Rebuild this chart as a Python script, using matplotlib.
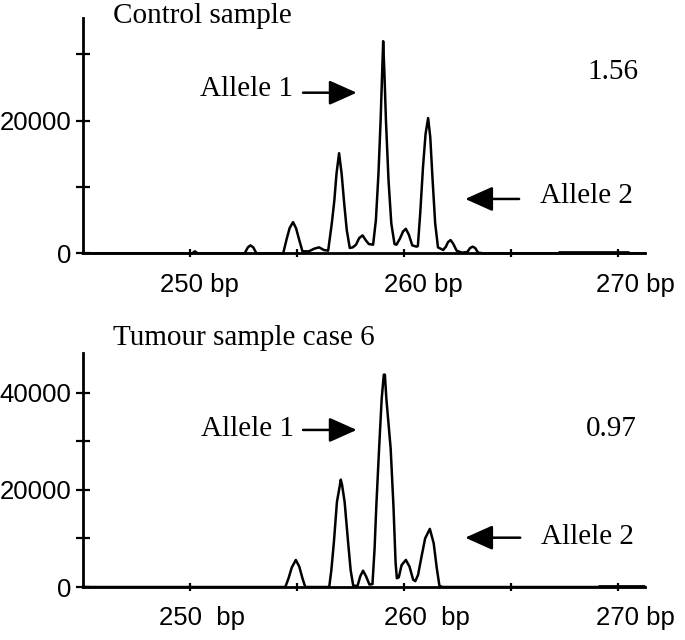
import matplotlib.pyplot as plt
from matplotlib.ticker import MultipleLocator
from matplotlib.transforms import ScaledTranslation

# trace (bp, signal)
control_bp = [245.0, 250.1, 250.22, 250.35, 252.55, 252.7, 252.82, 252.95, 253.1,
              254.35, 254.5, 254.65, 254.81, 254.95, 255.1, 255.25, 255.55, 255.8, 256.03, 256.25,
              256.45, 256.62, 256.74, 256.84, 256.96, 257.08, 257.2, 257.32, 257.46,
              257.6, 257.75, 257.9, 258.06, 258.2, 258.35, 258.55,
              258.68, 258.8, 258.9, 258.97, 259.02, 259.08, 259.15, 259.27, 259.4, 259.55,
              259.64, 259.8, 259.95, 260.08, 260.22, 260.38, 260.58,
              260.64, 260.75, 260.88, 261.0, 261.12, 261.22, 261.33, 261.45, 261.58,
              261.82, 261.95, 262.05, 262.17, 262.3, 262.45, 262.7, 262.95, 263.08, 263.2,
              263.32, 263.45, 263.7, 271.25]
control_rfu = [0, 0, 300, 0, 0, 900, 1200, 900, 0,
               0, 2000, 3800, 4700, 3800, 2000, 300, 300, 700, 900, 500,
               400, 4500, 8000, 12000, 15100, 12000, 7500, 3500, 800,
               900, 1300, 2300, 2700, 2000, 1400, 1300,
               5000, 12000, 20000, 27000, 32000, 27000, 20000, 11000, 4500, 1400,
               1300, 2200, 3300, 3700, 2800, 1200, 1000,
               1100, 6000, 13000, 18000, 20400, 17500, 11000, 4500, 900,
               500, 1000, 1700, 2000, 1400, 400, 100, 200, 800, 1000,
               800, 100, 0, 0]
control_band = [267.2, 270.5]

tumour_bp = [245.0, 254.45, 254.6, 254.75, 254.94, 255.1, 255.25, 255.38,
             256.5, 256.6, 256.72, 256.86, 257.0, 257.04, 257.1, 257.22, 257.38, 257.5, 257.62,
             257.82, 257.95, 258.08, 258.22, 258.38, 258.52,
             258.62, 258.7, 258.83, 258.95, 259.05, 259.1, 259.17, 259.37, 259.5, 259.6, 259.66,
             259.75, 259.88, 260.08, 260.25, 260.42, 260.52,
             260.65, 260.8, 260.98, 261.2, 261.38, 261.52, 261.65, 261.8, 271.25]
tumour_rfu = [0, 0, 1800, 4000, 5570, 4200, 1800, 0,
              0, 3500, 9300, 17500, 21000, 22100, 21000, 17500, 9300, 3500, 300,
              200, 2200, 3360, 2200, 500, 600,
              8000, 16700, 28500, 38700, 43700, 43700, 38700, 28500, 16700, 5000, 1800,
              2000, 4500, 5570, 4200, 1500, 1200,
              2500, 6000, 10000, 11960, 9000, 4000, 200, 0, 0]
tumour_band = [269.05, 271.25]

x_major = [250, 260, 270]
x_minor = [255, 265]
control_xlabels = ["250 bp", "260 bp", "270 bp"]
tumour_xlabels = ["250  bp", "260  bp", "270 bp"]
control_ratio = "1.56"
tumour_ratio = "0.97"

SERIF = "Liberation Serif"
SANS = "Liberation Sans"
FS = 21


def draw_panel(ax, bp, rfu, band, ymax, xlabels, label_dx):
    ax.plot(bp, rfu, color="black", lw=1.8, clip_on=False, zorder=3)
    ax.plot(band, [0, 0], color="black", lw=3.4, solid_capstyle="butt", zorder=3)
    ax.set_xlim(245.0, 271.25)
    ax.set_ylim(0, ymax)
    for s in ["top", "right"]:
        ax.spines[s].set_visible(False)
    for s in ["left", "bottom"]:
        ax.spines[s].set_linewidth(2.0)
    ax.yaxis.set_major_locator(MultipleLocator(20000))
    ax.yaxis.set_minor_locator(MultipleLocator(10000))
    ax.set_yticklabels([f"{int(v)}" for v in ax.get_yticks()])
    ax.tick_params(axis="y", which="both", direction="inout", length=9.5, width=1.6,
                   pad=3.5, labelsize=18.5)
    ax.set_xticks(x_major)
    ax.set_xticks(x_minor, minor=True)
    ax.set_xticklabels(xlabels, ha="left")
    ax.tick_params(axis="x", which="both", direction="inout", length=6, width=1.6,
                   pad=11, labelsize=18.5)
    for lab, dx in zip(ax.get_xticklabels(), label_dx):
        lab.set_fontfamily(SANS)
        lab.set_transform(lab.get_transform() + ScaledTranslation(dx / 100, 0, ax.figure.dpi_scale_trans))
    for lab in ax.get_yticklabels():
        lab.set_fontfamily(SANS)


def arrow(ax, tip, tail):
    ax.annotate("", xy=tip, xytext=tail, xycoords="axes fraction", textcoords="axes fraction",
                arrowprops=dict(arrowstyle="-|>,head_length=0.85,head_width=0.38", color="black",
                                lw=1.8, mutation_scale=20, shrinkA=0, shrinkB=0))


def label(ax, x, y, s):
    ax.text(x, y, s, transform=ax.transAxes, family=SERIF, fontsize=FS, va="baseline")


fig = plt.figure(figsize=(6.85, 6.4), dpi=100)
ax1 = fig.add_axes([0.1212, 0.6042, 0.8204, 0.3677])
ax2 = fig.add_axes([0.1212, 0.0828, 0.8204, 0.3652])

draw_panel(ax1, control_bp, control_rfu, control_band, 35500, control_xlabels, [-30, -20, -22])
draw_panel(ax2, tumour_bp, tumour_rfu, tumour_band, 48100, tumour_xlabels, [-31, -20, -22])

label(ax1, 0.053, 0.979, "Control sample")
label(ax1, 0.2087, 0.668, "Allele 1")
label(ax1, 0.898, 0.741, control_ratio)
label(ax1, 0.814, 0.2125, "Allele 2")
arrow(ax1, (0.487, 0.6825), (0.3915, 0.6825))
arrow(ax1, (0.680, 0.231), (0.776, 0.231))

label(ax2, 0.053, 1.0355, "Tumour sample case 6")
label(ax2, 0.21, 0.646, "Allele 1")
label(ax2, 0.895, 0.646, tumour_ratio)
label(ax2, 0.815, 0.184, "Allele 2")
arrow(ax2, (0.487, 0.672), (0.3915, 0.672))
arrow(ax2, (0.680, 0.211), (0.778, 0.211))

fig.savefig("out.png", dpi=100)
